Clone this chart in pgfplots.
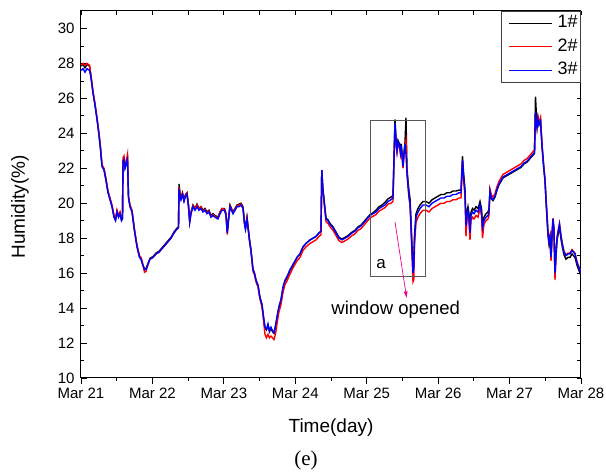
\documentclass[border=0pt]{standalone}
\usepackage{pgfplots}
\pgfplotsset{compat=1.18}
\usepackage{pgfplotstable}
\usepackage{fontspec}
\setmainfont{Liberation Sans}
\newfontfamily\seriffont{Liberation Serif}
\usetikzlibrary{arrows.meta}

\pgfplotstableread{
x a b c
0.000 27.85 27.9 27.6
0.028 27.95 28.0 27.7
0.056 27.75 27.9 27.5
0.084 27.95 28.0 27.7
0.119 27.85 27.9 27.6
0.140 27.25 27.3 27.2
0.168 26.35 26.4 26.3
0.196 25.65 25.7 25.6
0.224 24.85 24.9 24.8
0.252 23.95 24.0 23.9
0.273 23.15 23.2 23.1
0.294 22.15 22.2 22.1
0.322 21.95 22.0 21.9
0.350 21.35 21.4 21.3
0.378 20.65 20.7 20.6
0.406 20.25 20.3 20.2
0.434 19.85 19.9 19.8
0.462 19.25 19.3 19.2
0.483 19.05 19.1 19.0
0.504 19.55 19.6 19.5
0.525 19.25 19.3 19.2
0.546 19.45 19.5 19.4
0.567 19.05 19.1 19.0
0.581 19.15 19.2 19.1
0.588 22.45 22.6 22.4
0.602 22.55 22.7 22.5
0.616 22.05 22.1 22.0
0.637 22.35 22.5 22.3
0.651 22.55 22.8 22.5
0.665 20.35 20.4 20.3
0.686 19.85 19.9 19.8
0.714 19.55 19.6 19.5
0.749 18.45 18.5 18.4
0.784 17.55 17.6 17.5
0.819 16.95 17.0 16.9
0.840 16.85 16.9 16.8
0.861 16.55 16.6 16.5
0.889 16.25 16.05 16.2
0.910 16.25 16.1 16.2
0.938 16.55 16.5 16.5
0.966 16.85 16.8 16.8
1.008 16.95 16.9 16.9
1.050 17.15 17.1 17.1
1.092 17.25 17.2 17.2
1.134 17.45 17.4 17.4
1.176 17.65 17.6 17.6
1.218 17.85 17.8 17.8
1.260 18.05 18.0 18.0
1.302 18.35 18.3 18.3
1.337 18.55 18.5 18.5
1.365 18.65 18.6 18.6
1.372 21.1 20.9 20.8
1.386 20.6 20.5 20.4
1.400 20.3 20.25 20.2
1.421 20.6 20.55 20.5
1.442 20.2 20.15 20.1
1.463 20.5 20.45 20.4
1.484 20.6 20.55 20.5
1.505 19.9 19.85 19.8
1.522 19.0 18.95 18.9
1.540 19.5 19.45 19.4
1.568 19.9 19.85 19.8
1.596 19.7 19.7 19.6
1.624 19.95 19.9 19.8
1.652 19.7 19.65 19.6
1.680 19.8 19.8 19.7
1.708 19.6 19.55 19.5
1.736 19.7 19.65 19.6
1.764 19.5 19.45 19.4
1.792 19.6 19.55 19.5
1.820 19.3 19.25 19.2
1.848 19.4 19.35 19.3
1.876 19.3 19.25 19.2
1.918 19.2 19.15 19.1
1.946 19.5 19.5 19.4
1.974 19.7 19.7 19.6
2.009 19.7 19.65 19.6
2.030 19.4 19.35 19.3
2.048 18.4 18.2 18.3
2.065 19.1 19.05 19.0
2.086 19.9 19.85 19.8
2.107 19.7 19.65 19.6
2.128 19.5 19.45 19.4
2.156 19.7 19.65 19.6
2.184 19.9 19.85 19.8
2.212 19.95 19.9 19.8
2.240 20.0 19.95 19.9
2.268 19.8 19.75 19.7
2.289 18.9 18.85 18.8
2.303 18.6 18.55 18.5
2.324 19.2 19.15 19.1
2.338 18.7 18.65 18.6
2.359 17.9 17.85 17.9
2.380 17.3 17.25 17.3
2.408 16.2 16.1 16.2
2.429 16.0 15.9 16.0
2.450 15.6 15.5 15.6
2.478 15.3 15.2 15.3
2.506 14.6 14.5 14.6
2.534 14.2 14.05 14.2
2.555 13.5 13.3 13.5
2.576 12.85 12.5 12.9
2.597 12.75 12.3 12.8
2.618 13.0 12.5 13.1
2.639 12.65 12.3 12.7
2.660 12.85 12.4 12.9
2.681 12.65 12.3 12.7
2.702 12.55 12.2 12.6
2.723 12.95 12.5 13.0
2.744 13.45 13.1 13.5
2.772 14.05 13.8 14.1
2.800 14.45 14.2 14.5
2.828 15.15 14.9 15.2
2.856 15.55 15.35 15.6
2.884 15.75 15.55 15.8
2.926 16.15 15.95 16.2
2.968 16.45 16.3 16.5
3.024 16.9 16.7 16.9
3.066 17.1 16.9 17.1
3.108 17.5 17.3 17.5
3.150 17.7 17.5 17.7
3.206 17.9 17.7 17.9
3.248 18.0 17.8 18.0
3.290 18.1 17.9 18.1
3.332 18.3 18.1 18.3
3.360 18.4 18.2 18.4
3.371 21.9 21.9 21.9
3.385 20.9 20.8 20.9
3.402 20.2 20.1 20.2
3.430 19.15 18.95 19.1
3.458 19.05 18.85 19.0
3.486 18.85 18.65 18.8
3.528 18.65 18.45 18.6
3.570 18.35 18.15 18.3
3.612 18.05 17.85 18.0
3.654 17.95 17.75 17.9
3.696 18.05 17.85 18.0
3.738 18.15 17.95 18.1
3.794 18.35 18.15 18.3
3.836 18.45 18.25 18.4
3.878 18.65 18.45 18.6
3.920 18.75 18.55 18.7
3.962 18.95 18.75 18.9
4.004 19.15 18.95 19.1
4.046 19.35 19.15 19.3
4.088 19.45 19.25 19.4
4.130 19.6 19.35 19.5
4.172 19.8 19.55 19.7
4.214 19.9 19.65 19.8
4.256 20.05 19.75 19.9
4.298 20.25 19.95 20.1
4.340 20.35 20.0 20.2
4.368 20.45 20.1 20.3
4.382 22.6 22.4 22.5
4.396 24.8 24.5 24.6
4.410 23.7 23.4 23.6
4.424 23.1 22.9 23.0
4.438 23.6 23.4 23.5
4.459 23.4 23.2 23.3
4.473 23.0 22.8 22.9
4.483 23.4 23.2 23.3
4.508 22.3 22.0 22.1
4.522 22.9 22.7 22.8
4.536 23.5 23.3 23.4
4.550 24.9 23.6 22.8
4.564 22.0 21.8 21.7
4.578 21.3 21.0 21.0
4.592 20.7 20.3 20.4
4.606 20.3 19.9 20.0
4.620 19.0 18.6 18.8
4.634 17.6 17.1 17.3
4.648 16.3 15.5 16.0
4.659 16.6 15.6 16.3
4.669 18.2 17.6 17.9
4.690 19.4 18.9 19.2
4.718 19.7 19.2 19.5
4.746 19.9 19.4 19.7
4.788 20.1 19.6 19.9
4.830 20.1 19.6 19.9
4.872 20.0 19.5 19.8
4.914 20.2 19.7 20.0
4.956 20.3 19.8 20.1
4.998 20.4 19.9 20.2
5.040 20.5 20.0 20.3
5.082 20.5 20.0 20.3
5.124 20.6 20.1 20.4
5.166 20.6 20.1 20.4
5.208 20.7 20.2 20.5
5.250 20.7 20.2 20.5
5.292 20.75 20.3 20.6
5.320 20.75 20.3 20.6
5.341 22.7 22.4 22.5
5.355 21.8 21.4 21.6
5.376 20.8 20.4 20.6
5.390 18.9 18.1 18.7
5.404 19.5 19.0 19.3
5.418 19.8 19.3 19.6
5.432 19.4 18.9 19.2
5.446 18.5 17.9 18.3
5.460 19.5 19.0 19.3
5.481 19.7 19.2 19.5
5.502 19.6 19.1 19.4
5.530 19.8 19.3 19.6
5.558 19.7 19.2 19.5
5.586 20.1 19.7 19.9
5.607 19.7 19.3 19.5
5.621 18.8 18.0 18.6
5.642 19.2 18.8 19.0
5.670 19.4 19.0 19.2
5.698 19.5 19.1 19.3
5.712 19.7 19.3 19.5
5.726 20.7 20.8 20.7
5.747 20.25 20.45 20.3
5.768 20.15 20.35 20.2
5.796 20.35 20.55 20.4
5.824 20.75 20.95 20.8
5.852 21.05 21.25 21.1
5.880 21.25 21.45 21.3
5.908 21.45 21.65 21.5
5.950 21.55 21.75 21.6
5.992 21.65 21.85 21.7
6.034 21.75 21.95 21.8
6.076 21.85 22.05 21.9
6.118 21.95 22.15 22.0
6.160 22.05 22.25 22.1
6.202 22.25 22.45 22.3
6.244 22.35 22.55 22.4
6.286 22.55 22.75 22.6
6.328 22.75 22.95 22.8
6.349 22.85 23.05 22.9
6.363 26.1 25.0 25.2
6.384 24.4 24.3 24.3
6.398 24.9 24.9 24.8
6.412 24.5 24.6 24.5
6.433 24.8 24.9 24.7
6.454 23.3 23.4 23.3
6.475 22.2 22.3 22.2
6.496 21.3 21.4 21.3
6.510 20.2 20.3 20.2
6.524 19.15 19.35 19.3
6.538 18.15 18.35 18.3
6.552 17.65 17.85 17.8
6.566 17.95 18.15 18.1
6.580 16.75 16.7 16.9
6.594 18.05 18.25 18.2
6.608 18.95 19.15 19.1
6.622 18.35 18.55 18.5
6.636 15.9 15.6 16.0
6.650 16.95 17.15 17.1
6.664 17.85 18.05 18.0
6.685 18.35 18.55 18.5
6.699 18.65 18.85 18.8
6.720 17.95 18.15 18.1
6.741 17.45 17.65 17.6
6.762 17.05 17.25 17.2
6.790 16.8 17.05 17.0
6.818 16.9 17.15 17.1
6.846 16.9 17.15 17.1
6.874 17.1 17.35 17.3
6.895 17.0 17.25 17.2
6.916 16.9 17.15 17.1
6.944 16.45 16.65 16.6
6.972 16.15 16.35 16.3
7.000 15.85 16.05 16.0
}\hum

\begin{document}
\begin{tikzpicture}
\path[use as bounding box] (-81pt,-96pt) rectangle (525pt,378pt);
% secondary axis: inward ticks on top and right
\begin{axis}[
  at={(0,0)}, anchor=south west, scale only axis,
  width=500pt, height=367pt,
  xmin=0, xmax=7, ymin=10, ymax=31,
  xtick={0,0.5,...,7}, ytick={10,11,...,31},
  xtick pos=right, ytick pos=right, tick align=inside,
  xticklabels={}, yticklabels={},
  major tick length=3.5pt,
  tick style={black, line width=0.8pt},
  axis line style={line width=1pt},
]
\end{axis}
\begin{axis}[
  at={(0,0)}, anchor=south west, scale only axis,
  width=500pt, height=367pt,
  xmin=0, xmax=7, ymin=10, ymax=31,
  xtick={0,1,...,7},
  xticklabels={Mar 21,Mar 22,Mar 23,Mar 24,Mar 25,Mar 26,Mar 27,Mar 28},
  minor x tick num=1,
  ytick={10,12,...,30}, minor y tick num=1,
  xtick pos=left, ytick pos=left,
  xtick align=outside, ytick align=inside,
  major tick length=6pt, minor tick length=3.5pt,
  tick style={black, line width=0.8pt},
  axis line style={line width=1pt},
  ticklabel style={font=\fontsize{15}{18}\selectfont},
  yticklabel style={xshift=-3pt},
  /pgf/number format/assume math mode=true,
  xlabel={Time(day)}, ylabel={Humidity(\%)},
  label style={font=\fontsize{19}{22}\selectfont},
  xlabel style={at={(axis description cs:0.5,-0.136)}, anchor=center},
  ylabel style={at={(axis description cs:-0.122,0.466)}, anchor=center},
  legend style={at={(1,1)}, anchor=north east, draw=black!75, line width=0.8pt,
    font=\fontsize{18}{20}\selectfont, inner xsep=1pt, inner ysep=1.5pt,
    row sep=2.5pt, column sep=3pt, cells={anchor=west},
    nodes={inner sep=2pt, text height=13pt, text depth=4pt}},
  legend image code/.code={\path (0pt,-3pt) (0pt,3pt);
    \draw[#1, line width=0.9pt] (6pt,0pt)--(49pt,0pt);},
]
\addplot[draw=black, color=black, line width=1.4pt] table[x=x, y=a]{\hum};
\addplot[draw=red, color=red, line width=1.4pt] table[x=x, y=b]{\hum};
\addplot[draw=blue, color=blue, line width=1.4pt] table[x=x, y=c]{\hum};
\legend{1\#, 2\#, 3\#}
\draw[black!65, line width=0.8pt] (axis cs:4.056,15.79) rectangle (axis cs:4.826,24.74);
\draw[magenta, line width=0.7pt, -{Latex[length=7pt,width=4pt]}] (axis cs:4.396,18.93) -- (axis cs:4.56,14.55);
\node[font=\fontsize{17}{20}\selectfont] at (axis cs:4.2,16.55) {a};
\node[font=\fontsize{18.5}{20}\selectfont] at (axis cs:4.407,13.91) {window opened};
\end{axis}
\node[font=\seriffont\fontsize{21}{24}\selectfont] at (225pt,-82pt) {(e)};
\end{tikzpicture}
\end{document}
